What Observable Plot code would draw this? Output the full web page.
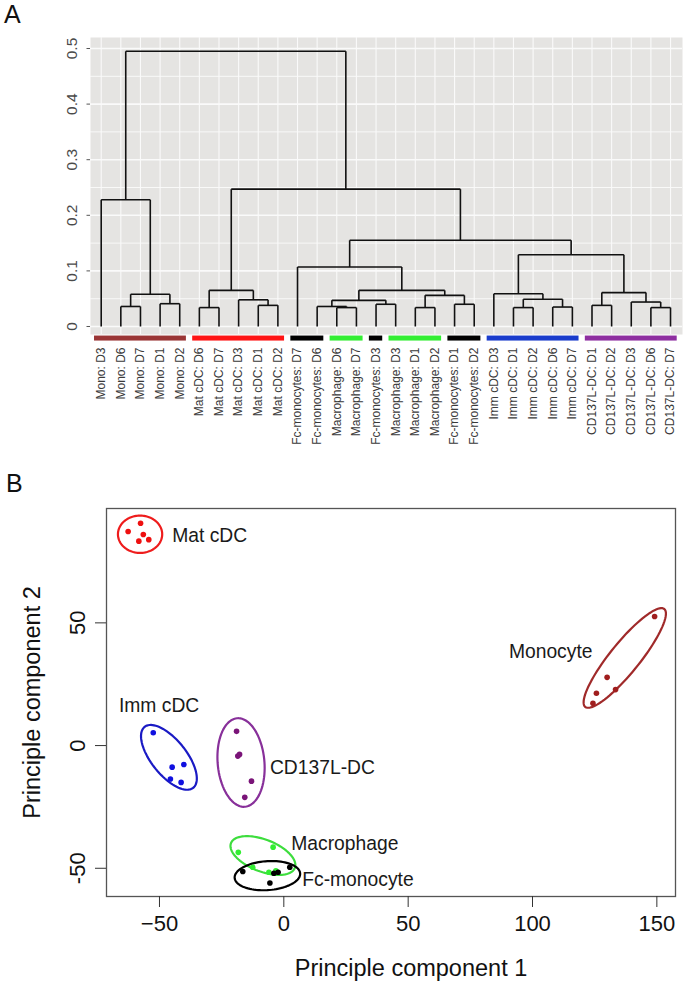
<!DOCTYPE html>
<html>
<head>
<meta charset="utf-8">
<script src="https://cdn.jsdelivr.net/npm/d3@7"></script>
<script src="https://cdn.jsdelivr.net/npm/@observablehq/plot@0.6"></script>
<style>
  html, body { margin: 0; padding: 0; background: #fff; }
  body { width: 685px; height: 985px; position: relative; overflow: hidden; font-family: Arial, "Liberation Sans", sans-serif; }
  .panel-letter { position: absolute; font-size: 25px; line-height: 1; color: #111; }
  #plotA { position: absolute; left: 0; top: 0; }
  #plotB { position: absolute; left: 0; top: 480px; }
</style>
</head>
<body>
<div id="plotA"></div>
<div id="plotB"></div>
<div class="panel-letter" style="left:4px; top:2px;">A</div>
<div class="panel-letter" style="left:6px; top:471px;">B</div>
<script>
// ---------------- Panel A data (dendrogram) ----------------
const leafLabels = [
  "Mono: D3","Mono: D6","Mono: D7","Mono: D1","Mono: D2",
  "Mat cDC: D6","Mat cDC: D7","Mat cDC: D3","Mat cDC: D1","Mat cDC: D2",
  "Fc-monocytes: D7","Fc-monocytes: D6","Macrophage: D6","Macrophage: D7","Fc-monocytes: D3",
  "Macrophage: D3","Macrophage: D1","Macrophage: D2","Fc-monocytes: D1","Fc-monocytes: D2",
  "Imm cDC: D3","Imm cDC: D1","Imm cDC: D2","Imm cDC: D6","Imm cDC: D7",
  "CD137L-DC: D1","CD137L-DC: D2","CD137L-DC: D3","CD137L-DC: D6","CD137L-DC: D7"
];
// hclust-style merges: negative = leaf (1-based position), positive = earlier merge (1-based)
const mergeLeft   = [-13,-12,-15,2,-17,-19,5,4,-11,-22,-24,10,-21,-26,-29,-28,14,13,9,-6,-9,-8,20,23,-2,-4,25,-1,28];
const mergeRight  = [-14,1,-16,3,-18,-20,6,7,8,-23,-25,11,12,-27,-30,15,16,17,18,-7,-10,21,22,19,-3,-5,26,27,24];
const mergeHeight = [0.034,0.036,0.040,0.047,0.034,0.040,0.056,0.065,0.107,0.034,0.035,0.049,0.059,0.038,0.034,0.044,0.061,0.129,0.155,0.034,0.038,0.048,0.065,0.247,0.036,0.041,0.058,0.228,0.495];
const groupNames = ["Mono","Mat cDC","Fc-monocytes","Macrophage","Imm cDC","CD137L-DC"];
const groupBarColors = ["#9a3535","#ff1414","#000000","#33ee33","#1a3ccc","#8e2ea0"];
const yTicksA = [0, 0.1, 0.2, 0.3, 0.4, 0.5];
const yTickLabelsA = ["0","0.1","0.2","0.3","0.4","0.5"];
const yGridA = [0,0.05,0.1,0.15,0.2,0.25,0.3,0.35,0.4,0.45,0.5];

// ---------------- Panel B data (PCA) ----------------
const pcaGroups   = ["Mat cDC","Imm cDC","CD137L-DC","Macrophage","Fc-monocyte","Monocyte"];
const ellColors   = ["#ee1c1c","#1a1ac4","#88309a","#3ddd3d","#000000","#a02a2a"];
const dotColors   = ["#ee1010","#1010e0","#7a1478","#33ee33","#000000","#a01e1e"];
const pointGroup = [0,0,0,0,0, 1,1,1,1,1, 2,2,2,2,2, 3,3,3,3,3, 4,4,4,4,4, 5,5,5,5,5];
const pc1 = [-62.6,-57.6,-56.5,-58.3,-54.3,
             -52.5,-44.9,-40.2,-45.6,-41.3,
             -19.0,-18.5,-17.8,-13.0,-15.7,
             -18.3,-4.3,-12.5,-6.0,-3.2,
             -16.5,-4.0,-2.3,2.4,-5.6,
             149.1,130.0,133.4,125.7,124.3];
const pc2 = [87.2,90.6,86.0,83.3,83.9,
             5.2,-8.8,-7.7,-13.6,-15.0,
             5.8,-4.3,-3.6,-14.5,-21.1,
             -43.5,-41.4,-49.6,-51.6,-51.0,
             -51.3,-52.0,-51.6,-49.6,-56.0,
             52.6,27.8,22.8,21.3,17.2];
// ellipses: centre, semi-axes (data units), rotation (degrees)
const ellCx    = [-57.8,-46.2,-17.2,-8.4,-6.6,137.1];
const ellCy    = [86.1,-4.8,-6.9,-44.8,-53.0,35.7];
const ellA     = [8.9,15.8,18.1,13.8,13.2,25.5];
const ellB     = [7.6,7.1,9.4,6.5,5.9,6.0];
const ellAngle = [0,-52,95,-21.6,4,51.5];
// group labels
const labelText = ["Mat cDC","Imm cDC","CD137L-DC","Macrophage","Fc-monocyte","Monocyte"];
const labelX    = [-44.9,-66.3,-5.6,3.0,7.4,90.5];
const labelY    = [85.6,16.3,-9.2,-39.9,-54.6,38.3];
const xTicksB = [-50, 0, 50, 100, 150];
const yTicksB = [-50, 0, 50];

const FONT = "Arial, 'Liberation Sans', sans-serif";

// ---------------- Build panel A ----------------
const nodes = [];
const segs = [];
function pos(c) { return c < 0 ? {x: -c, h: 0} : nodes[c - 1]; }
for (let i = 0; i < mergeHeight.length; i++) {
  const L = pos(mergeLeft[i]), R = pos(mergeRight[i]), h = mergeHeight[i];
  segs.push({x1: L.x, y1: L.h, x2: L.x, y2: h});
  segs.push({x1: R.x, y1: R.h, x2: R.x, y2: h});
  segs.push({x1: L.x, y1: h, x2: R.x, y2: h});
  nodes.push({x: (L.x + R.x) / 2, h});
}
const leaves = leafLabels.map((label, i) => ({i: i + 1, label, group: label.split(":")[0]}));
// contiguous runs of groups -> coloured bars
const bars = [];
leaves.forEach(d => {
  const last = bars[bars.length - 1];
  if (last && last.group === d.group) last.end = d.i;
  else bars.push({group: d.group, start: d.i, end: d.i});
});

const plotA = Plot.plot({
  width: 685, height: 460,
  marginLeft: 90, marginRight: 3, marginTop: 37, marginBottom: 126,
  style: {fontFamily: FONT, background: "transparent"},
  x: {domain: [0.455, 30.61], axis: null},
  y: {domain: [-0.0144, 0.5198], axis: null},
  marks: [
    Plot.frame({fill: "#e5e4e2", stroke: null}),
    Plot.ruleY(yGridA, {stroke: "#fafafa", strokeWidth: d => (Math.round(d * 100) % 10 === 0 ? 1.6 : 0.9)}),
    Plot.ruleX(leaves, {x: "i", stroke: "#fafafa", strokeWidth: 1.1}),
    Plot.link(segs, {x1: "x1", y1: "y1", x2: "x2", y2: "y2", stroke: "#111", strokeWidth: 1.6}),
    Plot.rect(bars, {x1: d => d.start - 0.34, x2: d => d.end + 0.34, y1: -0.0172, y2: -0.0262,
      fill: d => groupBarColors[groupNames.indexOf(d.group)]}),
    Plot.axisY({ticks: yTicksA, tickSize: 3.5, tickFormat: () => "", stroke: "#555", label: null}),
    Plot.text(yTicksA, {y: d => d, text: (d, i) => yTickLabelsA[i], frameAnchor: "left", dx: -18,
      rotate: -90, textAnchor: "middle", lineAnchor: "middle", fontSize: 15.5, fill: "#4a4a4a"}),
    Plot.text(leaves, {x: "i", text: "label", frameAnchor: "bottom", dy: 13, rotate: -90,
      textAnchor: "end", lineAnchor: "middle", fontSize: 12, fill: "#3a3a3a"})
  ]
});
document.getElementById("plotA").appendChild(plotA);

// ---------------- Build panel B ----------------
const points = pc1.map((x, i) => ({x, y: pc2[i], g: pointGroup[i]}));
const ellipses = ellCx.map((cx, k) => {
  const th = ellAngle[k] * Math.PI / 180, pts = [];
  for (let j = 0; j <= 90; j++) {
    const t = 2 * Math.PI * j / 90;
    const u = ellA[k] * Math.cos(t), v = ellB[k] * Math.sin(t);
    pts.push({x: cx + u * Math.cos(th) - v * Math.sin(th), y: ellCy[k] + u * Math.sin(th) + v * Math.cos(th)});
  }
  return pts;
});
const groupMarks = [];
pcaGroups.forEach((g, k) => {
  groupMarks.push(Plot.line(ellipses[k], {x: "x", y: "y", stroke: ellColors[k], strokeWidth: 2.2}));
});
pcaGroups.forEach((g, k) => {
  groupMarks.push(Plot.dot(points.filter(p => p.g === k), {x: "x", y: "y", r: 2.8, fill: dotColors[k], stroke: null}));
});
const labels = labelText.map((t, i) => ({t, x: labelX[i], y: labelY[i]}));

const plotB = Plot.plot({
  width: 685, height: 505,
  marginLeft: 106, marginRight: 10, marginTop: 28, marginBottom: 89,
  style: {fontFamily: FONT, background: "transparent"},
  x: {domain: [-71.3, 157.5], axis: null},
  y: {domain: [-61.5, 96.6], axis: null},
  marks: [
    ...groupMarks,
    Plot.text(labels, {x: "x", y: "y", text: "t", textAnchor: "start", fontSize: 19.3, fill: "#1a1a1a"}),
    Plot.frame({stroke: "#555", strokeWidth: 1.3}),
    Plot.axisX({ticks: xTicksB, tickSize: 11, tickPadding: 8, fontSize: 22, stroke: "#333", fill: "#111", label: null}),
    Plot.axisY({ticks: yTicksB, tickSize: 11, tickFormat: () => "", stroke: "#333", label: null}),
    Plot.text(yTicksB, {y: d => d, text: d => String(d), frameAnchor: "left", dx: -29, rotate: -90,
      textAnchor: "middle", lineAnchor: "middle", fontSize: 22, fill: "#111"}),
    Plot.text(["Principle component 1"], {frameAnchor: "bottom", dx: 20, dy: 72,
      textAnchor: "middle", lineAnchor: "middle", fontSize: 23.5, fill: "#111"}),
    Plot.text(["Principle component 2"], {frameAnchor: "left", dx: -74, rotate: -90,
      textAnchor: "middle", lineAnchor: "middle", fontSize: 23.5, fill: "#111"})
  ]
});
document.getElementById("plotB").appendChild(plotB);
</script>
</body>
</html>
